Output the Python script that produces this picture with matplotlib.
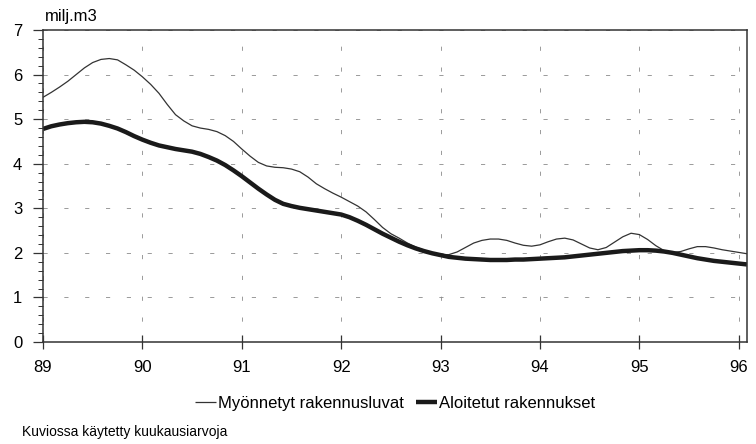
import numpy as np
import matplotlib
matplotlib.use("Agg")
import matplotlib.pyplot as plt
from matplotlib.ticker import MultipleLocator

plt.rcParams['font.family'] = ['Liberation Sans', 'DejaVu Sans']

# monthly values, Jan 1989 onwards (x in years, 89 = 1989)
start_year = 89.0
myonnetyt = [5.49, 5.60, 5.72, 5.85, 6.00, 6.15, 6.27, 6.34, 6.36, 6.33, 6.22, 6.10,
             5.95, 5.78, 5.58, 5.33, 5.10, 4.96, 4.85, 4.80, 4.77, 4.72, 4.63, 4.50,
             4.33, 4.17, 4.03, 3.95, 3.92, 3.91, 3.88, 3.82, 3.70, 3.55, 3.44, 3.34,
             3.25, 3.15, 3.05, 2.92, 2.75, 2.57, 2.43, 2.33, 2.22, 2.13, 2.06, 2.00,
             1.96, 1.96, 2.02, 2.12, 2.22, 2.28, 2.31, 2.31, 2.28, 2.22, 2.17, 2.15,
             2.18, 2.25, 2.31, 2.33, 2.29, 2.20, 2.11, 2.07, 2.12, 2.24, 2.36, 2.44,
             2.41, 2.30, 2.16, 2.05, 2.01, 2.03, 2.09, 2.14, 2.14, 2.11, 2.07, 2.04,
             2.01, 1.98]
aloitetut = [4.78, 4.84, 4.88, 4.91, 4.93, 4.94, 4.93, 4.90, 4.85, 4.79, 4.71, 4.62,
             4.54, 4.47, 4.41, 4.37, 4.33, 4.30, 4.27, 4.22, 4.15, 4.07, 3.97, 3.85,
             3.72, 3.58, 3.44, 3.31, 3.19, 3.10, 3.05, 3.01, 2.98, 2.95, 2.92, 2.89,
             2.86, 2.80, 2.72, 2.63, 2.53, 2.43, 2.34, 2.25, 2.17, 2.10, 2.04, 1.99,
             1.95, 1.91, 1.89, 1.87, 1.86, 1.85, 1.84, 1.84, 1.84, 1.85, 1.85, 1.86,
             1.87, 1.88, 1.89, 1.90, 1.92, 1.94, 1.96, 1.98, 2.00, 2.02, 2.04, 2.05,
             2.06, 2.06, 2.05, 2.03, 2.00, 1.96, 1.92, 1.88, 1.85, 1.82, 1.80, 1.78,
             1.76, 1.74]
x_ticks = [89, 90, 91, 92, 93, 94, 95, 96]
x_labels = ['89', '90', '91', '92', '93', '94', '95', '96']
y_ticks = [0, 1, 2, 3, 4, 5, 6, 7]

x = start_year + np.arange(len(myonnetyt)) / 12.0

fig = plt.figure(figsize=(7.56, 4.44), dpi=100)
ax = fig.add_axes([43/756, 1-342/444, (747-43)/756, (342-30)/444])

ax.plot(x, myonnetyt, color='#333333', lw=0.9, label='Myönnetyt rakennusluvat', solid_capstyle='butt')
ax.plot(x, aloitetut, color='#1a1a1a', lw=3.2, label='Aloitetut rakennukset', solid_capstyle='butt')

ax.set_xlim(89, x[-1])
ax.set_ylim(0, 7)
ax.set_xticks(x_ticks)
ax.set_xticklabels(x_labels)
ax.set_yticks(y_ticks)
ax.yaxis.set_minor_locator(MultipleLocator(0.2))

ax.grid(True, which='major', color='#8a8a8a', lw=0.6, linestyle=(0, (5, 20)))
for s in ax.spines.values():
    s.set_color('#333333')
    s.set_linewidth(1.1)

ax.tick_params(axis='y', which='major', direction='out', length=7, width=0.9, pad=8,
               labelsize=12, color='#333333')
ax.tick_params(axis='y', which='minor', direction='out', length=3.5, width=0.7, color='#333333')
ax.tick_params(axis='x', which='major', direction='inout', length=10, width=0.9, pad=8,
               labelsize=12, color='#333333')

fig.text(45/756, 1-17/444, 'milj.m3', fontsize=12, ha='left', va='center')

leg = fig.legend(loc='center', bbox_to_anchor=(395/756, 1-403/444), ncol=2, frameon=False,
                 fontsize=12, handlelength=1.3, handletextpad=0.1, columnspacing=0.7,
                 borderpad=0, borderaxespad=0)

fig.text(22/756, 1-432/444, 'Kuviossa käytetty kuukausiarvoja', fontsize=10, ha='left', va='center')

fig.savefig('out.png', dpi=100)
